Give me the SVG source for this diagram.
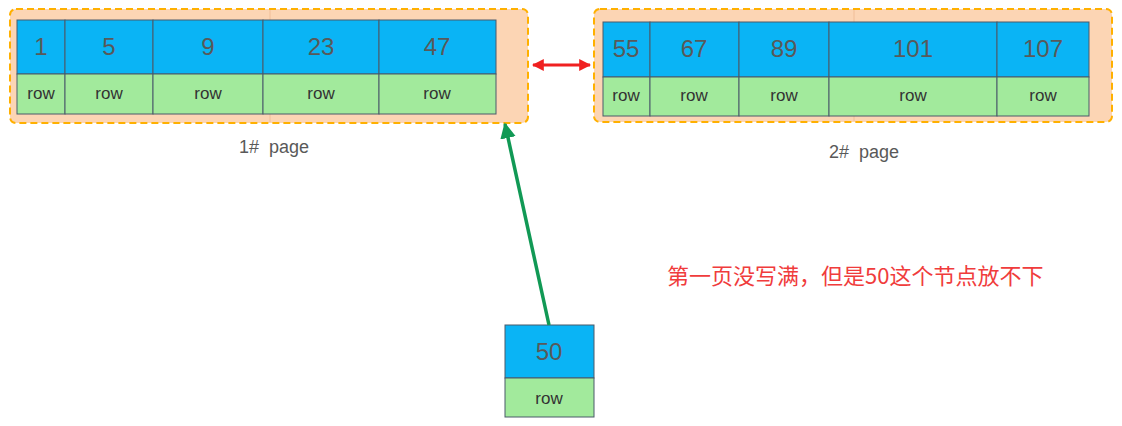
<svg xmlns="http://www.w3.org/2000/svg" width="1122" height="426" viewBox="0 0 1122 426">
<style>
.page{fill:#FCD5B4;stroke:#FFB000;stroke-width:2;stroke-dasharray:7,4}
.key{fill:#0AB4F5;stroke:#4A5A6A;stroke-width:1}
.row{fill:#A2EA9C;stroke:#4A5A6A;stroke-width:1}
.num{font-family:"Liberation Sans",Arial,sans-serif;font-size:24px;fill:#595959;text-anchor:middle}
.rt{font-family:"Liberation Sans",Arial,sans-serif;font-size:17px;fill:#333;text-anchor:middle}
.lbl{font-family:"Liberation Sans",Arial,sans-serif;font-size:18px;fill:#595959;text-anchor:middle;white-space:pre}
.note{font-family:"Noto Sans CJK SC",sans-serif;font-size:22px;fill:#F03C3C}
.faint{stroke:#F0BE98;stroke-width:1}
</style>
<defs>
<marker id="redArr" viewBox="0 0 10 10" refX="9" refY="5" markerWidth="4" markerHeight="4" orient="auto-start-reverse"><path d="M0,0 L10,5 L0,10 z" fill="#F02020"/></marker>
<marker id="grnArr" viewBox="0 0 10 10" refX="9" refY="5" markerWidth="4.5" markerHeight="4.5" orient="auto"><path d="M0,0 L10,5 L0,10 z" fill="#119955"/></marker>
</defs>
<g id="page1">
<rect class="page" x="10" y="9" width="518" height="114" rx="6"/>
<line class="faint" x1="270" y1="10" x2="270" y2="122"/>
<rect class="key" x="17" y="20" width="48" height="54"/>
<rect class="key" x="65" y="20" width="88" height="54"/>
<rect class="key" x="153" y="20" width="110" height="54"/>
<rect class="key" x="263" y="20" width="116" height="54"/>
<rect class="key" x="379" y="20" width="117" height="54"/>
<rect class="row" x="17" y="74" width="48" height="40"/>
<rect class="row" x="65" y="74" width="88" height="40"/>
<rect class="row" x="153" y="74" width="110" height="40"/>
<rect class="row" x="263" y="74" width="116" height="40"/>
<rect class="row" x="379" y="74" width="117" height="40"/>
<text class="num" x="41" y="55">1</text>
<text class="num" x="109" y="55">5</text>
<text class="num" x="208" y="55">9</text>
<text class="num" x="321" y="55">23</text>
<text class="num" x="437" y="55">47</text>
<text class="rt" x="41" y="99">row</text>
<text class="rt" x="109" y="99">row</text>
<text class="rt" x="208" y="99">row</text>
<text class="rt" x="321" y="99">row</text>
<text class="rt" x="437" y="99">row</text>
<text class="lbl" x="274" y="153" xml:space="preserve">1#  page</text>
</g>
<g id="page2">
<rect class="page" x="594" y="9" width="518" height="113" rx="6"/>
<line class="faint" x1="854" y1="10" x2="854" y2="121"/>
<rect class="key" x="603" y="22" width="47" height="55"/>
<rect class="key" x="650" y="22" width="89" height="55"/>
<rect class="key" x="739" y="22" width="90" height="55"/>
<rect class="key" x="829" y="22" width="168" height="55"/>
<rect class="key" x="997" y="22" width="92" height="55"/>
<rect class="row" x="603" y="77" width="47" height="39"/>
<rect class="row" x="650" y="77" width="89" height="39"/>
<rect class="row" x="739" y="77" width="90" height="39"/>
<rect class="row" x="829" y="77" width="168" height="39"/>
<rect class="row" x="997" y="77" width="92" height="39"/>
<text class="num" x="626" y="57">55</text>
<text class="num" x="694" y="57">67</text>
<text class="num" x="784" y="57">89</text>
<text class="num" x="913" y="57">101</text>
<text class="num" x="1043" y="57">107</text>
<text class="rt" x="626" y="101">row</text>
<text class="rt" x="694" y="101">row</text>
<text class="rt" x="784" y="101">row</text>
<text class="rt" x="913" y="101">row</text>
<text class="rt" x="1043" y="101">row</text>
<text class="lbl" x="864" y="158" xml:space="preserve">2#  page</text>
</g>
<g id="node50">
<rect class="key" x="505" y="325" width="89" height="53"/>
<rect class="row" x="505" y="378" width="89" height="39"/>
<text class="num" x="549" y="360">50</text>
<text class="rt" x="549" y="404">row</text>
</g>
<g id="connectors">
<line x1="533" y1="65" x2="590" y2="65" stroke="#F02020" stroke-width="3" marker-start="url(#redArr)" marker-end="url(#redArr)"/>
<line x1="549" y1="325" x2="505" y2="124" stroke="#119955" stroke-width="3.5" marker-end="url(#grnArr)"/>
</g>
<text id="note" class="note" x="667" y="284">第一页没写满，但是50这个节点放不下</text>
</svg>
